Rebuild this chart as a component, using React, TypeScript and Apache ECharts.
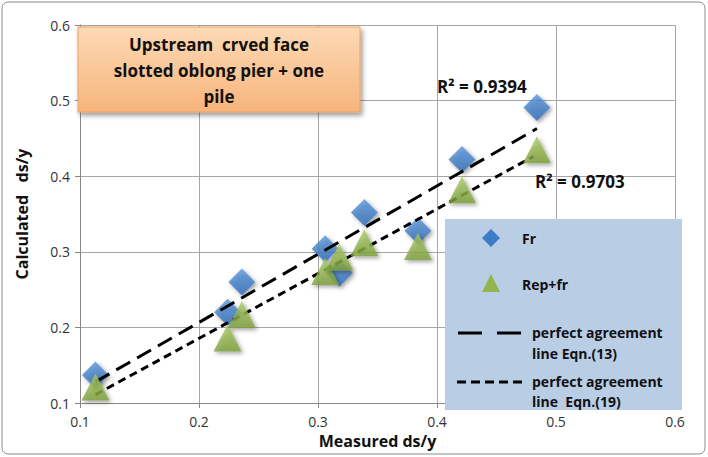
import React, { useEffect, useRef } from "react";
import * as echarts from "echarts";

const frX = [0.113, 0.224, 0.236, 0.306, 0.318, 0.339, 0.384, 0.421, 0.484];
const frY = [0.137, 0.220, 0.260, 0.304, 0.272, 0.352, 0.328, 0.422, 0.491];
const repX = [0.113, 0.224, 0.236, 0.306, 0.318, 0.339, 0.384, 0.421, 0.484];
const repY = [0.121, 0.186, 0.217, 0.274, 0.293, 0.312, 0.307, 0.382, 0.435];
const eqn13X = [0.113, 0.484];
const eqn13Y = [0.128, 0.463];
const eqn19X = [0.113, 0.481];
const eqn19Y = [0.111, 0.426];
const axisTicks = [0.1, 0.2, 0.3, 0.4, 0.5, 0.6];

const FONT = "'Open Sans', sans-serif";

export default function App() {
  const ref = useRef<HTMLDivElement>(null);
  useEffect(() => {
    document.body.style.margin = "0";
    const chart = echarts.init(ref.current!, null, { renderer: "svg" });
    const pair = (xs: number[], ys: number[]) => xs.map((x, i) => [x, ys[i]]);
    const blue = new echarts.graphic.LinearGradient(0, 0, 0, 1, [
      { offset: 0, color: "#5a96dc" },
      { offset: 1, color: "#2f6bb5" },
    ]);
    const green = new echarts.graphic.LinearGradient(0, 0, 0, 1, [
      { offset: 0, color: "#aacb62" },
      { offset: 1, color: "#7d9f3c" },
    ]);
    const shadow = {
      shadowBlur: 4,
      shadowColor: "rgba(0,0,0,0.45)",
      shadowOffsetX: 2,
      shadowOffsetY: 2,
    };
    chart.setOption({
      animation: false,
      backgroundColor: "#ffffff",
      textStyle: { fontFamily: FONT },
      grid: { left: 80, right: 33, top: 25, bottom: 54 },
      xAxis: {
        type: "value",
        min: axisTicks[0],
        max: axisTicks[axisTicks.length - 1],
        interval: 0.1,
        name: "Measured ds/y",
        nameLocation: "middle",
        nameGap: 28,
        nameTextStyle: { fontSize: 16, fontWeight: "bold", color: "#111", fontFamily: FONT },
        axisLine: { lineStyle: { color: "#888" } },
        axisTick: { show: true, length: 5, lineStyle: { color: "#888" } },
        splitLine: { show: true, lineStyle: { color: "#a6a6a6" } },
        axisLabel: { fontSize: 14, color: "#333", margin: 11, formatter: (v: number) => String(Math.round(v * 10) / 10) },
      },
      yAxis: {
        type: "value",
        min: axisTicks[0],
        max: axisTicks[axisTicks.length - 1],
        interval: 0.1,
        name: "Calculated   ds/y",
        nameLocation: "middle",
        nameGap: 50,
        nameTextStyle: { fontSize: 16, fontWeight: "bold", color: "#111", fontFamily: FONT },
        axisLine: { show: true, lineStyle: { color: "#888" } },
        axisTick: { show: true, length: 5, lineStyle: { color: "#888" } },
        splitLine: { show: true, lineStyle: { color: "#a6a6a6" } },
        axisLabel: { fontSize: 14, color: "#333", margin: 10, formatter: (v: number) => String(Math.round(v * 10) / 10) },
      },
      series: [
        {
          name: "perfect agreement line Eqn.(13)",
          type: "line",
          data: pair(eqn13X, eqn13Y),
          symbol: "none",
          lineStyle: { color: "#000", width: 3, type: [16, 8] },
          z: 3,
        },
        {
          name: "perfect agreement line Eqn.(19)",
          type: "line",
          data: pair(eqn19X, eqn19Y),
          symbol: "none",
          lineStyle: { color: "#000", width: 3, type: [8, 5] },
          z: 3,
        },
        {
          name: "Fr",
          type: "scatter",
          symbol: "diamond",
          symbolSize: [27, 27],
          data: pair(frX, frY),
          itemStyle: { color: blue, ...shadow },
          z: 2,
        },
        {
          name: "Rep+fr",
          type: "scatter",
          symbol: "triangle",
          symbolSize: [28, 27],
          data: pair(repX, repY),
          itemStyle: { color: green, ...shadow },
          z: 4,
        },
      ],
      graphic: [
        {
          type: "rect",
          shape: { x: 2, y: 2, width: 703, height: 452, r: 6 },
          style: { fill: "none", stroke: "#8c8c8c", lineWidth: 1 },
          silent: true,
          z: -10,
        },
        {
          type: "rect",
          shape: { x: 78, y: 27, width: 282, height: 85 },
          style: {
            fill: new echarts.graphic.LinearGradient(0, 0, 0, 1, [
              { offset: 0, color: "#fdd9b5" },
              { offset: 1, color: "#f7b57c" },
            ]),
            stroke: "#e9a063",
            lineWidth: 1,
            shadowBlur: 5,
            shadowColor: "rgba(0,0,0,0.4)",
            shadowOffsetX: 2,
            shadowOffsetY: 3,
          },
          z: 10,
        },
        {
          type: "text",
          x: 219,
          y: 70,
          style: {
            text: "Upstream  crved face\nslotted oblong pier + one\npile",
            fontSize: 17,
            fontWeight: "bold",
            fontFamily: FONT,
            fill: "#111",
            align: "center",
            verticalAlign: "middle",
            lineHeight: 26,
          },
          z: 11,
        },
        {
          type: "text",
          x: 437,
          y: 86,
          style: { text: "R² = 0.9394", fontSize: 17, fontWeight: "bold", fontFamily: FONT, fill: "#111", verticalAlign: "middle" },
          z: 11,
        },
        {
          type: "text",
          x: 535,
          y: 181,
          style: { text: "R² = 0.9703", fontSize: 17, fontWeight: "bold", fontFamily: FONT, fill: "#111", verticalAlign: "middle" },
          z: 11,
        },
        {
          type: "rect",
          shape: { x: 445, y: 219, width: 237, height: 191 },
          style: { fill: "#b9cde5" },
          z: 8,
        },
        {
          type: "polygon",
          shape: { points: [[491, 229], [500, 238], [491, 247], [482, 238]] },
          style: { fill: "#3d7cc9" },
          z: 9,
        },
        {
          type: "text",
          x: 522,
          y: 238,
          style: { text: "Fr", fontSize: 14, fontWeight: "bold", fontFamily: FONT, fill: "#111", verticalAlign: "middle" },
          z: 9,
        },
        {
          type: "polygon",
          shape: { points: [[491, 274], [500, 292], [482, 292]] },
          style: { fill: "#92b550" },
          z: 9,
        },
        {
          type: "text",
          x: 522,
          y: 284,
          style: { text: "Rep+fr", fontSize: 14, fontWeight: "bold", fontFamily: FONT, fill: "#111", verticalAlign: "middle" },
          z: 9,
        },
        {
          type: "line",
          shape: { x1: 458, y1: 333, x2: 526, y2: 333 },
          style: { stroke: "#000", lineWidth: 3, lineDash: [24, 15] },
          z: 9,
        },
        {
          type: "text",
          x: 532,
          y: 343,
          style: {
            text: "perfect agreement\nline Eqn.(13)",
            fontSize: 14,
            fontWeight: "bold",
            fontFamily: FONT,
            fill: "#111",
            verticalAlign: "middle",
            lineHeight: 21,
          },
          z: 9,
        },
        {
          type: "line",
          shape: { x1: 457, y1: 382, x2: 526, y2: 382 },
          style: { stroke: "#000", lineWidth: 3, lineDash: [9, 5] },
          z: 9,
        },
        {
          type: "text",
          x: 532,
          y: 391,
          style: {
            text: "perfect agreement\nline  Eqn.(19)",
            fontSize: 14,
            fontWeight: "bold",
            fontFamily: FONT,
            fill: "#111",
            verticalAlign: "middle",
            lineHeight: 20,
          },
          z: 9,
        },
      ],
    });
    return () => chart.dispose();
  }, []);
  return <div ref={ref} style={{ width: 708, height: 457 }} />;
}
